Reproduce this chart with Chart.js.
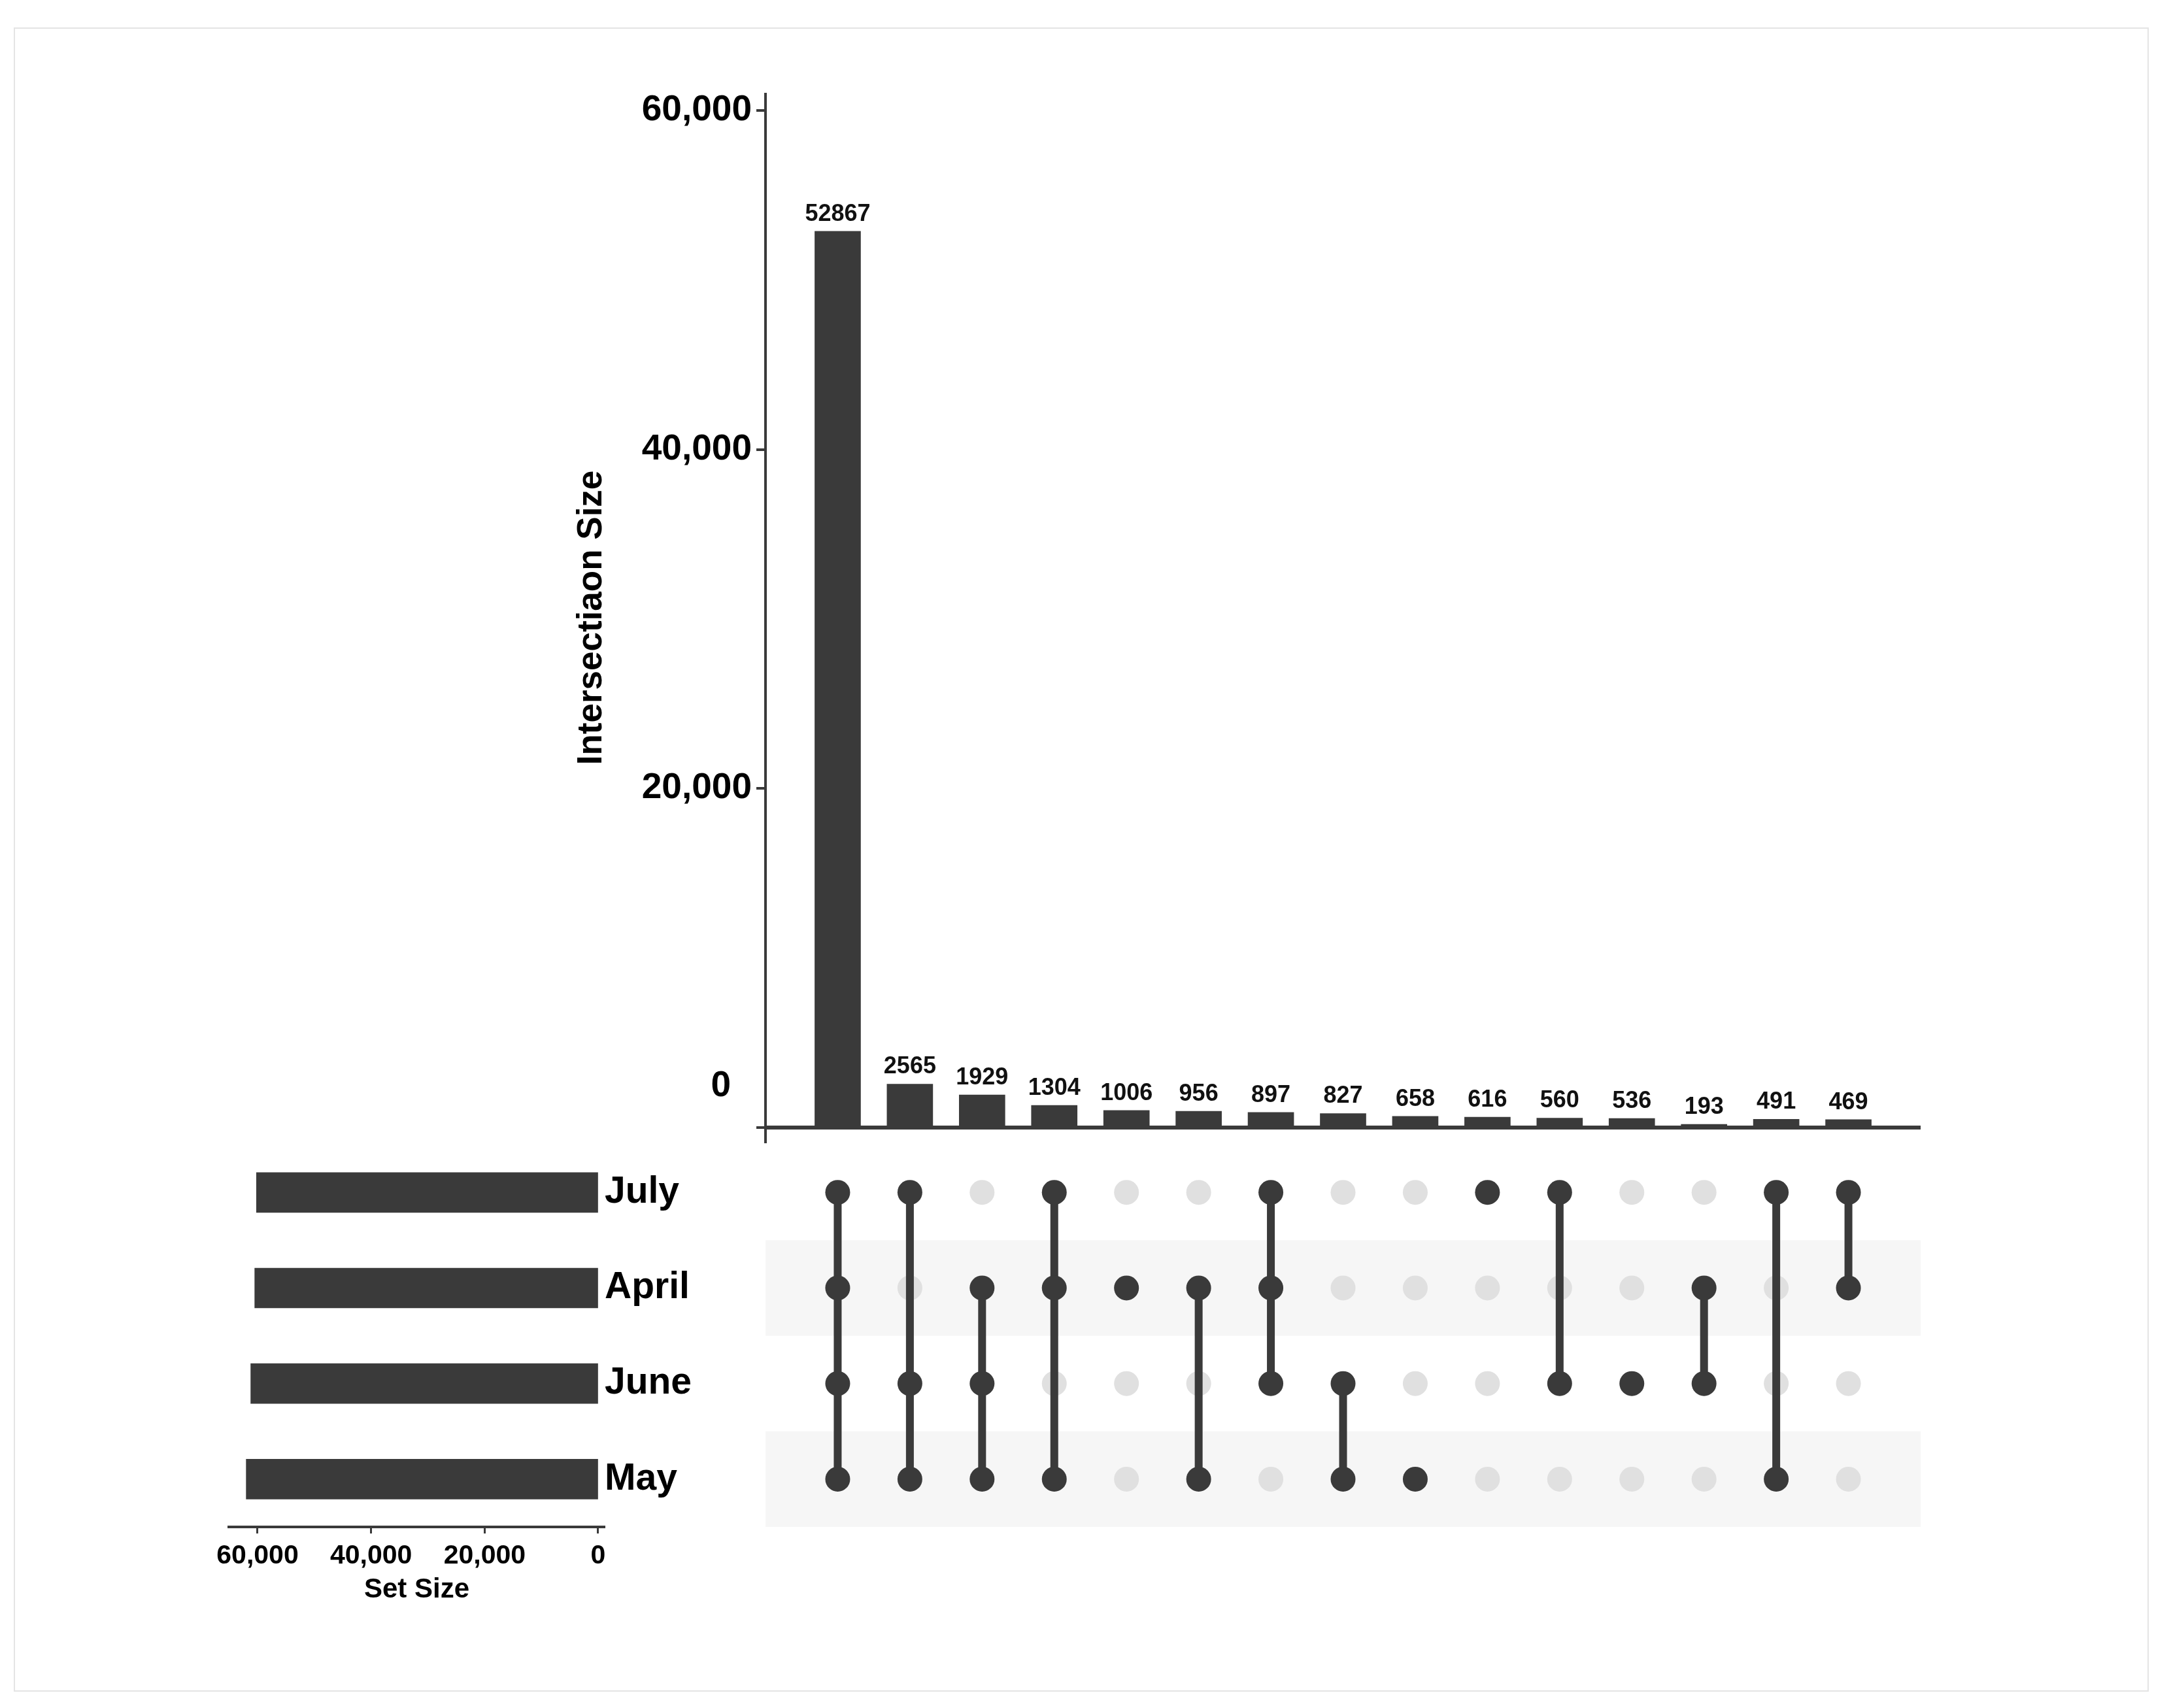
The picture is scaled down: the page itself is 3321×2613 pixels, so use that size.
<!DOCTYPE html>
<html>
<head>
<meta charset="utf-8">
<script src="https://cdn.jsdelivr.net/npm/chart.js@4/dist/chart.umd.min.js"></script>
<style>
  body { margin: 0; background: #fff; width: 3321px; height: 2613px; position: relative; overflow: hidden; }
  #frame { position: absolute; left: 21px; top: 42px; width: 3262px; height: 2542px; border: 2px solid #e4e4e4; }
  canvas { position: absolute; }
</style>
</head>
<body>
<div id="frame"></div>
<canvas id="barChart" width="2086" height="1686" style="left:874px; top:100px;"></canvas>
<canvas id="matrixChart" width="1860" height="615" style="left:1100px; top:1745px;"></canvas>
<canvas id="setChart" width="760" height="741" style="left:300px; top:1717px;"></canvas>
<script>
// data
var sets = ["July", "April", "June", "May"];
var setSizes = [60200, 60500, 61200, 62000];
var intersectionSizes = [52867, 2565, 1929, 1304, 1006, 956, 897, 827, 658, 616, 560, 536, 193, 491, 469];
var intersectionSets = [
  ["July", "April", "June", "May"],
  ["July", "June", "May"],
  ["April", "June", "May"],
  ["July", "April", "May"],
  ["April"],
  ["April", "May"],
  ["July", "April", "June"],
  ["June", "May"],
  ["May"],
  ["July"],
  ["July", "June"],
  ["June"],
  ["April", "June"],
  ["July", "May"],
  ["July", "April"]
];
var sizeTicks = [0, 20000, 40000, 60000];
var setTicks = [0, 20000, 40000, 60000];

var dark = "#3a3a3a";
var light = "#e0e0e0";
var band = "#f6f6f6";

Chart.defaults.font.family = "'Liberation Sans', Arial, sans-serif";
Chart.defaults.font.weight = "bold";
Chart.defaults.color = "#000";
Chart.defaults.animation = false;
Chart.defaults.plugins.legend.display = false;
Chart.defaults.plugins.tooltip.enabled = false;

function fmt(v) {
  return v.toLocaleString("en-US");
}

// labels above the intersection bars
var barLabels = {
  id: "barLabels",
  afterDatasetsDraw: function (chart) {
    var ctx = chart.ctx;
    var meta = chart.getDatasetMeta(0);
    ctx.save();
    ctx.font = "bold 36px 'Liberation Sans', Arial";
    ctx.fillStyle = "#111";
    ctx.textAlign = "center";
    ctx.textBaseline = "middle";
    meta.data.forEach(function (bar, i) {
      ctx.fillText(String(intersectionSizes[i]), bar.x, bar.y - 26);
    });
    ctx.restore();
  }
};

// the "0" label sits above the baseline in the original
var zeroLabel = {
  id: "zeroLabel",
  afterDraw: function (chart) {
    var y = chart.scales.y;
    var ctx = chart.ctx;
    ctx.save();
    ctx.font = "bold 55px 'Liberation Sans', Arial";
    ctx.fillStyle = "#000";
    ctx.textAlign = "right";
    ctx.textBaseline = "middle";
    ctx.fillText("0", y.right - 53, y.getPixelForValue(0) - 63);
    ctx.restore();
  }
};

var barCtx = document.getElementById("barChart").getContext("2d");
new Chart(barCtx, {
  type: "bar",
  data: {
    datasets: [{
      data: intersectionSizes.map(function (v, i) { return { x: i + 1, y: v }; }),
      backgroundColor: dark,
      barThickness: 70
    }]
  },
  options: {
    responsive: false,
    devicePixelRatio: 1,
    layout: { padding: { top: 44, bottom: 0, right: 22, left: 0 } },
    scales: {
      x: { type: "linear", min: 0, max: 16, offset: false, display: false },
      y: {
        min: -810,
        max: 60960,
        afterBuildTicks: function (scale) {
          scale.ticks = sizeTicks.map(function (v) { return { value: v }; });
        },
        afterFit: function (scale) { scale.width = 297; },
        ticks: {
          font: { size: 55, weight: "bold" },
          padding: 7,
          callback: function (v) { return v === 0 ? "" : fmt(v); }
        },
        grid: {
          color: function (c) { return c.tick && c.tick.value === 0 ? dark : "rgba(0,0,0,0)"; },
          lineWidth: 6,
          tickColor: dark,
          tickWidth: 4,
          tickLength: 14
        },
        border: { color: dark, width: 4 },
        title: {
          display: true,
          text: "Intersectiaon Size",
          font: { size: 53, weight: "bold" },
          padding: 0
        }
      }
    }
  },
  plugins: [barLabels, zeroLabel]
});

// matrix of dots
var activePts = [];
var inactivePts = [];
var lineSets = [];
intersectionSets.forEach(function (members, i) {
  var rows = [];
  sets.forEach(function (s, r) {
    if (members.indexOf(s) !== -1) {
      activePts.push({ x: i + 1, y: r });
      rows.push(r);
    } else {
      inactivePts.push({ x: i + 1, y: r });
    }
  });
  if (rows.length > 1) {
    lineSets.push({
      type: "line",
      data: [{ x: i + 1, y: Math.min.apply(null, rows) }, { x: i + 1, y: Math.max.apply(null, rows) }],
      borderColor: dark,
      borderWidth: 12,
      pointRadius: 0,
      showLine: true,
      clip: false
    });
  }
});

var bands = {
  id: "bands",
  beforeDatasetsDraw: function (chart) {
    var ctx = chart.ctx;
    var area = chart.chartArea;
    var y = chart.scales.y;
    ctx.save();
    ctx.fillStyle = band;
    [1, 3].forEach(function (r) {
      var top = y.getPixelForValue(r - 0.5);
      var bottom = y.getPixelForValue(r + 0.5);
      ctx.fillRect(area.left, top, area.right - area.left, bottom - top);
    });
    ctx.restore();
  }
};

var matrixCtx = document.getElementById("matrixChart").getContext("2d");
new Chart(matrixCtx, {
  type: "scatter",
  data: {
    datasets: [
      { data: activePts, backgroundColor: dark, borderWidth: 0, pointRadius: 19, clip: false }
    ].concat(lineSets).concat([
      { data: inactivePts, backgroundColor: light, borderWidth: 0, pointRadius: 19, clip: false }
    ])
  },
  options: {
    responsive: false,
    devicePixelRatio: 1,
    layout: { autoPadding: false, padding: { left: 71, right: 22, top: 6, bottom: 24 } },
    scales: {
      x: { type: "linear", min: 0, max: 16, display: false },
      y: { type: "linear", min: -0.5, max: 3.5, reverse: true, display: false }
    }
  },
  plugins: [bands]
});

// set size bars
var setCtx = document.getElementById("setChart").getContext("2d");
new Chart(setCtx, {
  type: "bar",
  data: {
    labels: sets,
    datasets: [{
      data: setSizes,
      backgroundColor: dark,
      barThickness: 61
    }]
  },
  options: {
    indexAxis: "y",
    responsive: false,
    devicePixelRatio: 1,
    layout: { padding: { left: 50, top: 0, right: 0, bottom: 0 } },
    scales: {
      y: {
        position: "right",
        afterFit: function (scale) { scale.width = 135; },
        grid: { display: false, drawTicks: false },
        border: { display: false },
        ticks: { font: { size: 57, weight: "bold" }, padding: 0, crossAlign: "near" }
      },
      x: {
        reverse: true,
        min: -1152,
        max: 65067,
        afterBuildTicks: function (scale) {
          scale.ticks = setTicks.map(function (v) { return { value: v }; });
        },
        afterFit: function (scale) { scale.height = 122; },
        ticks: {
          font: { size: 41, weight: "bold" },
          padding: 10,
          maxRotation: 0,
          callback: function (v) { return fmt(v); }
        },
        grid: { drawOnChartArea: false, tickColor: dark, tickWidth: 3, tickLength: 10 },
        border: { color: dark, width: 4 },
        title: {
          display: true,
          text: "Set Size",
          font: { size: 42, weight: "bold" },
          padding: { top: 0, bottom: 0, left: 0, right: 0 }
        }
      }
    }
  }
});
</script>
</body>
</html>
